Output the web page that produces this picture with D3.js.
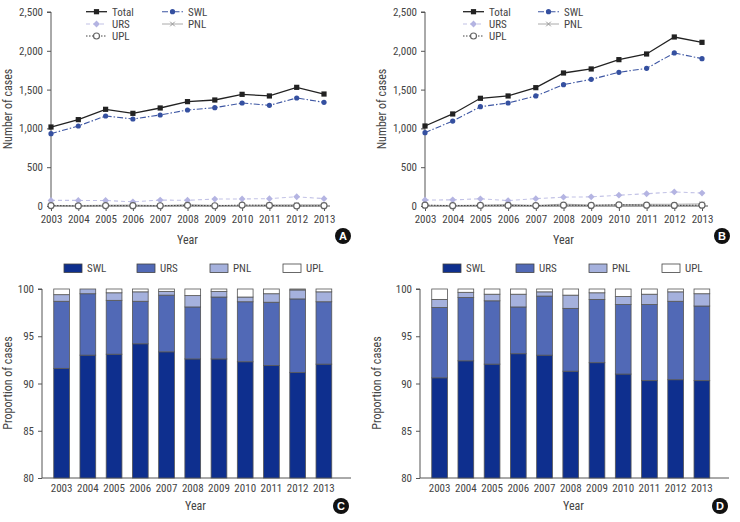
<!DOCTYPE html>
<html><head><meta charset="utf-8">
<script src="https://cdn.jsdelivr.net/npm/d3@7"></script>
<style>
body{margin:0;background:#fff;}
svg text{font-family:"Liberation Sans Narrow","Roboto Condensed",Roboto,"Liberation Sans",sans-serif;fill:#444;}
</style></head><body>
<svg id="c" width="740" height="522"></svg>
<script>
const years = [2003,2004,2005,2006,2007,2008,2009,2010,2011,2012,2013];
const countTicks = [0,500,1000,1500,2000,2500];
const propTicks = [80,85,90,95,100];

// Panel A counts
const aTotal = [1018,1113,1246,1194,1263,1345,1366,1439,1418,1529,1443];
const aSWL   = [932,1031,1160,1121,1173,1237,1267,1327,1297,1392,1336];
const aURS   = [72,72,71,54,76,74,89,91,95,119,95];
const aPNL   = [7,6,10,12,5,16,8,7,13,15,15];
const aUPL   = [6,1,5,4,3,9,3,12,7,1,4];
// Panel B counts
const bTotal = [1031,1186,1388,1418,1525,1714,1766,1886,1959,2178,2109];
const bSWL   = [945,1095,1280,1327,1418,1564,1632,1723,1774,1972,1899];
const bURS   = [77,79,93,70,95,114,118,139,158,181,167];
const bPNL   = [9,7,10,19,7,24,12,16,22,22,27];
const bUPL   = [11,4,8,8,5,11,7,15,11,7,11];
// Panel C proportions (%)
const cSWL = [91.6,93.0,93.1,94.2,93.35,92.6,92.6,92.3,91.9,91.15,92.05];
const cURS = [7.1,6.5,5.7,4.5,6.0,5.5,6.55,6.35,6.7,7.8,6.6];
const cPNL = [0.7,0.5,0.8,1.0,0.4,1.2,0.6,0.5,0.9,0.95,1.05];
const cUPL = [0.6,0.04,0.4,0.3,0.25,0.7,0.25,0.85,0.5,0.1,0.3];
// Panel D proportions (%)
const dSWL = [90.6,92.4,92.05,93.15,93.0,91.3,92.2,91.0,90.3,90.4,90.3];
const dURS = [7.45,6.7,6.7,4.95,6.25,6.65,6.7,7.35,8.05,8.3,7.9];
const dPNL = [0.85,0.55,0.7,1.35,0.45,1.4,0.7,0.85,1.1,1.0,1.3];
const dUPL = [1.1,0.35,0.55,0.55,0.3,0.65,0.4,0.8,0.55,0.3,0.5];

const svg = d3.select("#c");
const fmt = d3.format(",");

const lineStyles = {
  Total:{stroke:"#222",dash:null,w:1.3,marker:"square",fill:"#222"},
  SWL:{stroke:"#3d56a3",dash:"6,2,1.5,2",w:1.1,marker:"circle",fill:"#3550a0"},
  URS:{stroke:"#c2c2e6",dash:"4,3",w:1.1,marker:"diamond",fill:"#b4b4e2"},
  PNL:{stroke:"#aaa",dash:null,w:1,marker:"cross",fill:"#999"},
  UPL:{stroke:"#444",dash:"1.5,1.5",w:1,marker:"ring",fill:"#fff"}
};

function drawMarker(g, type, x, y, st){
  if(type==="square") g.append("rect").attr("x",x-2.6).attr("y",y-2.6).attr("width",5.2).attr("height",5.2).attr("fill",st.fill);
  else if(type==="circle") g.append("circle").attr("cx",x).attr("cy",y).attr("r",2.6).attr("fill",st.fill);
  else if(type==="diamond") g.append("path").attr("d",`M${x},${y-3.4}L${x+3.4},${y}L${x},${y+3.4}L${x-3.4},${y}Z`).attr("fill",st.fill);
  else if(type==="cross") g.append("path").attr("d",`M${x-2.3},${y-2.3}L${x+2.3},${y+2.3}M${x-2.3},${y+2.3}L${x+2.3},${y-2.3}`).attr("stroke",st.fill).attr("stroke-width",1);
  else if(type==="ring") g.append("circle").attr("cx",x).attr("cy",y).attr("r",3).attr("fill","#fff").attr("stroke","#666").attr("stroke-width",1.2);
}

function badge(x,y,letter){
  svg.append("circle").attr("cx",x).attr("cy",y).attr("r",8).attr("fill","#111");
  svg.append("text").attr("x",x).attr("y",y+4).attr("text-anchor","middle").style("font-family","Liberation Sans, Arial, sans-serif").style("font-weight","bold").style("font-size","11px").style("fill","#fff").text(letter);
}

function linePanel(o){
  const g = svg.append("g");
  const x = d3.scalePoint().domain(years).range([o.x0, o.x1]);
  const y = d3.scaleLinear().domain([0,2500]).range([206,12]);
  const ya = g.append("g").attr("transform",`translate(${o.x0},0)`).call(d3.axisLeft(y).tickValues(countTicks).tickFormat(fmt).tickSize(4).tickPadding(4));
  ya.select(".domain").attr("stroke","#555").attr("d",`M-4,12H0V206`);
  ya.selectAll(".tick line").attr("stroke","#555");
  ya.selectAll("text").style("font-size","11px").style("fill","#444");
  const xa = g.append("g").attr("transform",`translate(0,206)`).call(d3.axisBottom(x).tickSize(5).tickPadding(4));
  xa.select(".domain").attr("stroke","#555").attr("d",`M${o.x0},0H${o.x1+6}`);
  xa.selectAll(".tick line").attr("stroke","#555");
  xa.selectAll("text").style("font-size","11px").style("fill","#444");
  const series = [["URS",o.URS],["PNL",o.PNL],["UPL",o.UPL],["SWL",o.SWL],["Total",o.Total]];
  series.forEach(([name,vals])=>{
    const st = lineStyles[name];
    const ln = d3.line().x((d,i)=>x(years[i])).y(d=>y(d));
    g.append("path").attr("d",ln(vals)).attr("fill","none").attr("stroke",st.stroke).attr("stroke-width",st.w).attr("stroke-dasharray",st.dash);
    vals.forEach((v,i)=>drawMarker(g,st.marker,x(years[i]),y(v),st));
  });
  const leg = [["Total",o.lx1,11.7],["URS",o.lx1,24],["UPL",o.lx1,36],["SWL",o.lx2,11.7],["PNL",o.lx2,24]];
  leg.forEach(([name,lx,ly])=>{
    const st = lineStyles[name];
    g.append("line").attr("x1",lx).attr("x2",lx+21).attr("y1",ly).attr("y2",ly).attr("stroke",st.stroke).attr("stroke-width",st.w).attr("stroke-dasharray",st.dash);
    drawMarker(g,st.marker,lx+10.5,ly,st);
    g.append("text").attr("x",lx+26).attr("y",ly+4).style("font-size","11px").text(name);
  });
  g.append("text").attr("x",(o.x0+o.x1)/2).attr("y",244).attr("text-anchor","middle").style("font-size","12px").text("Year");
  g.append("text").attr("transform",`translate(${o.tx},109) rotate(-90)`).attr("text-anchor","middle").style("font-size","12px").text("Number of cases");
  badge(o.bx,236,o.letter);
}

const barColors = {SWL:"#0e2f8e",URS:"#5169b6",PNL:"#a5b1dd",UPL:"#ffffff"};
function barPanel(o){
  const g = svg.append("g");
  const x = d3.scaleBand().domain(years).range([o.x0+6.5, o.x1]).paddingInner(0.4).paddingOuter(0.2);
  const y = d3.scaleLinear().domain([80,100]).range([478,289]);
  const ya = g.append("g").attr("transform",`translate(${o.x0},0)`).call(d3.axisLeft(y).tickValues(propTicks).tickSize(4).tickPadding(4));
  ya.select(".domain").attr("stroke","#555").attr("d",`M-4,289H0V478`);
  ya.selectAll(".tick line").attr("stroke","#555");
  ya.selectAll("text").style("font-size","11px").style("fill","#444");
  const xa = g.append("g").attr("transform",`translate(0,478)`).call(d3.axisBottom(x).tickSize(0).tickPadding(6));
  xa.select(".domain").attr("stroke","#555").attr("d",`M${o.x0},0H${o.x1+14}`);
  xa.selectAll("text").style("font-size","11px").style("fill","#444");
  const keys = ["SWL","URS","PNL","UPL"];
  years.forEach((yr,i)=>{
    const comps = {SWL:o.SWL[i],URS:o.URS[i],PNL:o.PNL[i],UPL:o.UPL[i]};
    let cum = 0;
    keys.forEach(k=>{
      const lo = cum, hi = cum + comps[k]; cum = hi;
      const a = Math.max(lo,80), b = Math.min(hi,100);
      if(b<=a) return;
      g.append("rect").attr("x",x(yr)).attr("width",x.bandwidth())
        .attr("y",y(b)).attr("height",y(a)-y(b))
        .attr("fill",barColors[k]).attr("stroke","#555").attr("stroke-width",0.8);
    });
  });
  keys.forEach((k,i)=>{
    const lx = o.lx[i];
    g.append("rect").attr("x",lx).attr("y",264).attr("width",18).attr("height",8.5).attr("fill",barColors[k]).attr("stroke","#444").attr("stroke-width",0.8);
    g.append("text").attr("x",lx+23).attr("y",272).style("font-size","11px").text(k);
  });
  g.append("text").attr("x",(o.x0+o.x1)/2+6).attr("y",510).attr("text-anchor","middle").style("font-size","12px").text("Year");
  g.append("text").attr("transform",`translate(${o.tx},383) rotate(-90)`).attr("text-anchor","middle").style("font-size","12px").text("Proportion of cases");
  badge(o.bx,506,o.letter);
}

linePanel({x0:51,x1:324,Total:aTotal,SWL:aSWL,URS:aURS,PNL:aPNL,UPL:aUPL,lx1:86,lx2:162,tx:12,bx:343,letter:"A"});
linePanel({x0:425,x1:702,Total:bTotal,SWL:bSWL,URS:bURS,PNL:bPNL,UPL:bUPL,lx1:463,lx2:538,tx:386,bx:722,letter:"B"});
barPanel({x0:42,x1:337,SWL:cSWL,URS:cURS,PNL:cPNL,UPL:cUPL,lx:[64,137,210,283],tx:12,bx:341,letter:"C"});
barPanel({x0:420,x1:715,SWL:dSWL,URS:dURS,PNL:dPNL,UPL:dUPL,lx:[443,516,589,662],tx:381,bx:720,letter:"D"});
</script></body></html>
